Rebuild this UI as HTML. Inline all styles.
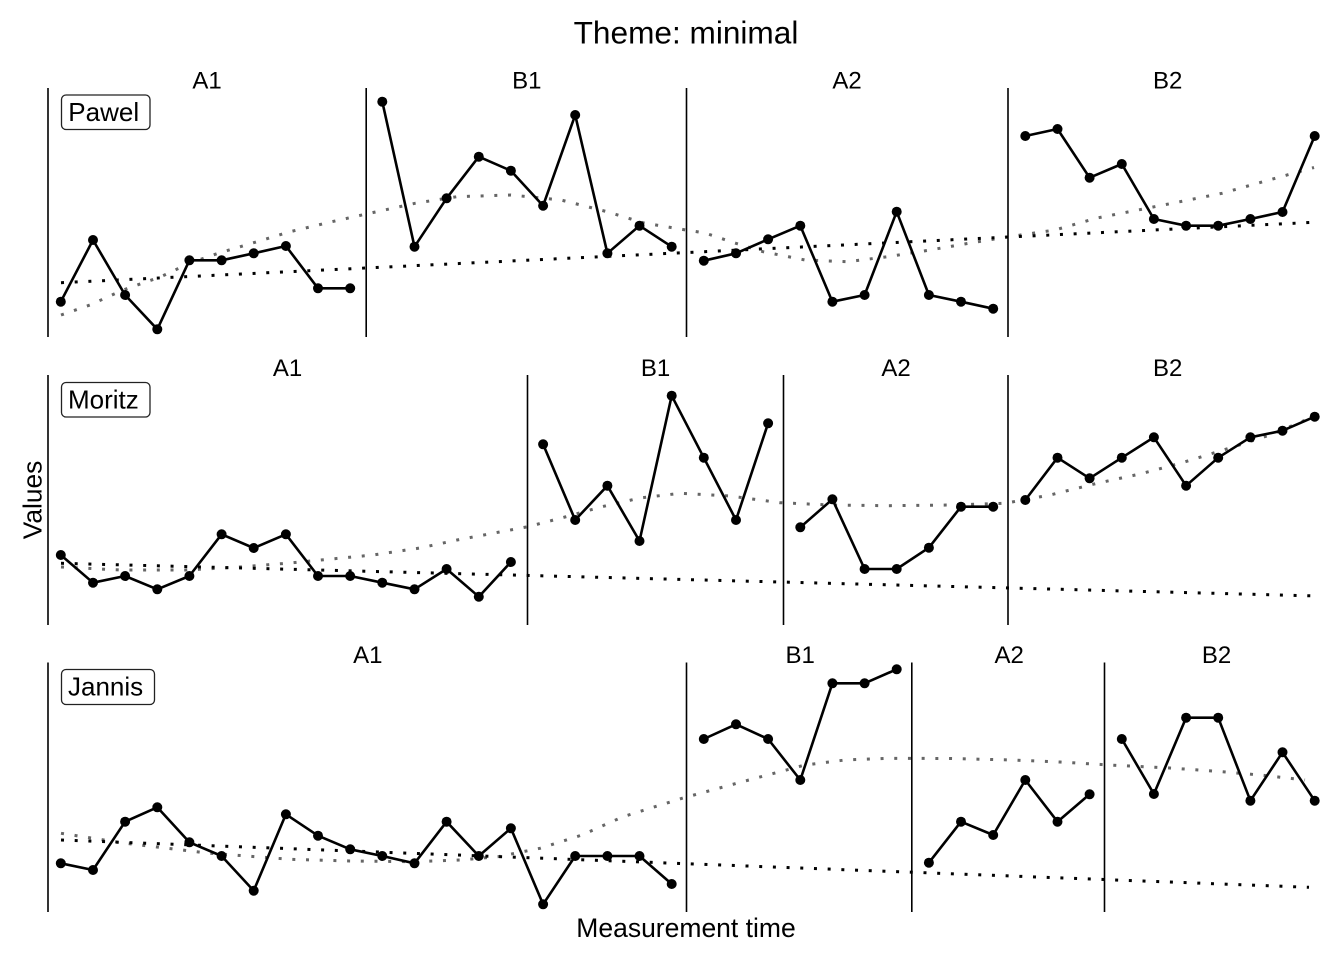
<!DOCTYPE html>
<html>
<head>
<meta charset="utf-8">
<style>
html,body{margin:0;padding:0;background:#fff;}
svg{display:block;}
text{font-family:"Liberation Sans",Arial,sans-serif;fill:#000;}
</style>
</head>
<body>
<svg width="1344" height="960" viewBox="0 0 1344 960" xmlns="http://www.w3.org/2000/svg">
<defs>
<marker id="m" markerWidth="12" markerHeight="12" refX="6" refY="6" markerUnits="userSpaceOnUse">
<circle cx="6" cy="6" r="5" fill="#000"/>
</marker>
</defs>
<rect width="1344" height="960" fill="#fff"/>

<text x="686" y="43.3" font-size="31.6" text-anchor="middle">Theme: minimal</text>
<text transform="translate(41.5,500) rotate(-90)" font-size="26.3" text-anchor="middle">Values</text>
<text x="686" y="937" font-size="26.5" text-anchor="middle">Measurement time</text>

<!-- ================= Pawel ================= -->
<g>
<text x="207" y="88.3" font-size="24" text-anchor="middle">A1</text>
<text x="526.8" y="88.3" font-size="24" text-anchor="middle">B1</text>
<text x="847" y="88.3" font-size="24" text-anchor="middle">A2</text>
<text x="1167.7" y="88.3" font-size="24" text-anchor="middle">B2</text>
<g stroke="#000" stroke-width="1.6">
<line x1="48" y1="88" x2="48" y2="337"/>
<line x1="366.2" y1="88" x2="366.2" y2="337"/>
<line x1="686.5" y1="88" x2="686.5" y2="337"/>
<line x1="1008" y1="88" x2="1008" y2="337"/>
</g>
<polyline fill="none" stroke="#666" stroke-width="3" stroke-dasharray="3 10.7" points="61,315 90,305 123,290 161,276.7 190,263 219,253 257,241.7 290,231.7 332,221.7 365,214.3 415,203.3 457,196.7 511,195 561,200 607,211.7 644,223 686,230 705,233 734,242.7 763,251.7 805,260 847,261.7 888,256.7 930,250 972,242.7 1009,236.7 1055,230 1097,218 1138,210 1180,201.7 1222,193.3 1263,181.7 1314,167.5"/>
<line x1="61" y1="282.7" x2="1314" y2="222.3" stroke="#000" stroke-width="3" stroke-dasharray="3 10.7"/>
<g fill="none" stroke="#000" stroke-width="2.6" stroke-linejoin="round" marker-start="url(#m)" marker-mid="url(#m)" marker-end="url(#m)">
<polyline points="60.8,301.7 93,240 125.1,295 157.3,329.3 189.4,260.3 221.6,260.3 253.7,253.3 285.9,246 318,288.3 350.2,288.3"/>
<polyline points="382.3,101.7 414.5,246.7 446.6,198.3 478.8,156.7 510.9,170.7 543.1,205.7 575.2,115 607.4,253.3 639.5,225.7 671.7,246.7"/>
<polyline points="703.8,260.7 736,253.3 768.1,239.3 800.3,225.7 832.4,301.7 864.6,295 896.7,211.7 928.9,295 961,301.7 993.2,308.7"/>
<polyline points="1025.3,136 1057.5,129 1089.6,177.7 1121.8,164 1153.9,219 1186.1,225.7 1218.2,225.7 1250.4,219 1282.5,212 1314.7,136"/>
</g>
<rect x="61.5" y="95" width="88.5" height="34.5" rx="4.5" fill="#fff" stroke="#222" stroke-width="1.3"/>
<text x="68.3" y="121" font-size="26">Pawel</text>
</g>

<!-- ================= Moritz ================= -->
<g>
<text x="287.5" y="376" font-size="24" text-anchor="middle">A1</text>
<text x="655.6" y="376" font-size="24" text-anchor="middle">B1</text>
<text x="896" y="376" font-size="24" text-anchor="middle">A2</text>
<text x="1167.7" y="376" font-size="24" text-anchor="middle">B2</text>
<g stroke="#000" stroke-width="1.6">
<line x1="48" y1="375" x2="48" y2="625"/>
<line x1="527.5" y1="375" x2="527.5" y2="625"/>
<line x1="783.5" y1="375" x2="783.5" y2="625"/>
<line x1="1008" y1="375" x2="1008" y2="625"/>
</g>
<polyline fill="none" stroke="#666" stroke-width="3" stroke-dasharray="3 10.7" points="61,567 120,570 186,570 240,567 290,563 373,555 420,548 457,540 528,526.7 565,517 602,506.7 640,498 680,493.3 730,496 780,502.7 830,505 888,505.7 950,505 1005,503.3 1050,495 1097,483.3 1140,474 1180,463.3 1230,448 1270,435 1314,416.5"/>
<line x1="61" y1="563.3" x2="1314" y2="595.9" stroke="#000" stroke-width="3" stroke-dasharray="3 10.7"/>
<g fill="none" stroke="#000" stroke-width="2.6" stroke-linejoin="round" marker-start="url(#m)" marker-mid="url(#m)" marker-end="url(#m)">
<polyline points="60.8,555 93,582.7 125.1,576 157.3,589.3 189.4,576 221.6,534.3 253.7,548 285.9,534.3 318,576 350.2,576 382.3,582.7 414.5,589.3 446.6,569 478.8,596.7 510.9,562"/>
<polyline points="543.1,444.3 575.2,520 607.4,485.7 639.5,541 671.7,395.7 703.8,457.7 736,520 768.1,423.3"/>
<polyline points="800.3,527.3 832.4,499.3 864.6,569 896.7,569 928.9,547.7 961,506.7 993.2,506.7"/>
<polyline points="1025.3,500 1057.5,457.7 1089.6,478.3 1121.8,457.7 1153.9,437.3 1186.1,485.7 1218.2,457.7 1250.4,437.3 1282.5,430.7 1314.7,416.7"/>
</g>
<rect x="61.5" y="382.5" width="88.5" height="34.5" rx="4.5" fill="#fff" stroke="#222" stroke-width="1.3"/>
<text x="68" y="408.5" font-size="26">Moritz</text>
</g>

<!-- ================= Jannis ================= -->
<g>
<text x="367.8" y="663" font-size="24" text-anchor="middle">A1</text>
<text x="800.2" y="663" font-size="24" text-anchor="middle">B1</text>
<text x="1009.2" y="663" font-size="24" text-anchor="middle">A2</text>
<text x="1216.5" y="663" font-size="24" text-anchor="middle">B2</text>
<g stroke="#000" stroke-width="1.6">
<line x1="48" y1="662.5" x2="48" y2="912"/>
<line x1="686.5" y1="662.5" x2="686.5" y2="912"/>
<line x1="911.8" y1="662.5" x2="911.8" y2="912"/>
<line x1="1104.5" y1="662.5" x2="1104.5" y2="912"/>
</g>
<polyline fill="none" stroke="#666" stroke-width="3" stroke-dasharray="3 10.7" points="61,833.3 123,843 207,853 290,859.3 350,861 415,861.7 460,860 498,856.7 540,848.3 582,835 623,816.7 682,798.3 742.5,781.7 805,765 845,760 888,758.3 950,758.5 1013,760 1060,762 1109,765 1170,768 1222,771.7 1265,775.5 1305,780"/>
<line x1="61" y1="840" x2="1309" y2="887.3" stroke="#000" stroke-width="3" stroke-dasharray="3 10.7"/>
<g fill="none" stroke="#000" stroke-width="2.6" stroke-linejoin="round" marker-start="url(#m)" marker-mid="url(#m)" marker-end="url(#m)">
<polyline points="60.8,863.3 93,870 125.1,821.7 157.3,807.3 189.4,842.3 221.6,856 253.7,890.7 285.9,814.3 318,835.7 350.2,849.3 382.3,856 414.5,863.3 446.6,821.7 478.8,856 510.9,828.3 543.1,904.3 575.2,856 607.4,856 639.5,856 671.7,884"/>
<polyline points="703.8,739 736,724.3 768.1,739 800.3,780 832.4,683.3 864.6,683.3 896.7,669.3"/>
<polyline points="928.9,862.7 961,821.7 993.2,835 1025.3,780 1057.5,821.7 1089.6,794.3"/>
<polyline points="1121.8,739 1153.9,794 1186.1,717.7 1218.2,717.7 1250.4,800.7 1282.5,752.3 1314.7,800.7"/>
</g>
<rect x="61.5" y="669.5" width="93" height="35" rx="4.5" fill="#fff" stroke="#222" stroke-width="1.3"/>
<text x="68" y="695.5" font-size="26">Jannis</text>
</g>
</svg>
</body>
</html>
